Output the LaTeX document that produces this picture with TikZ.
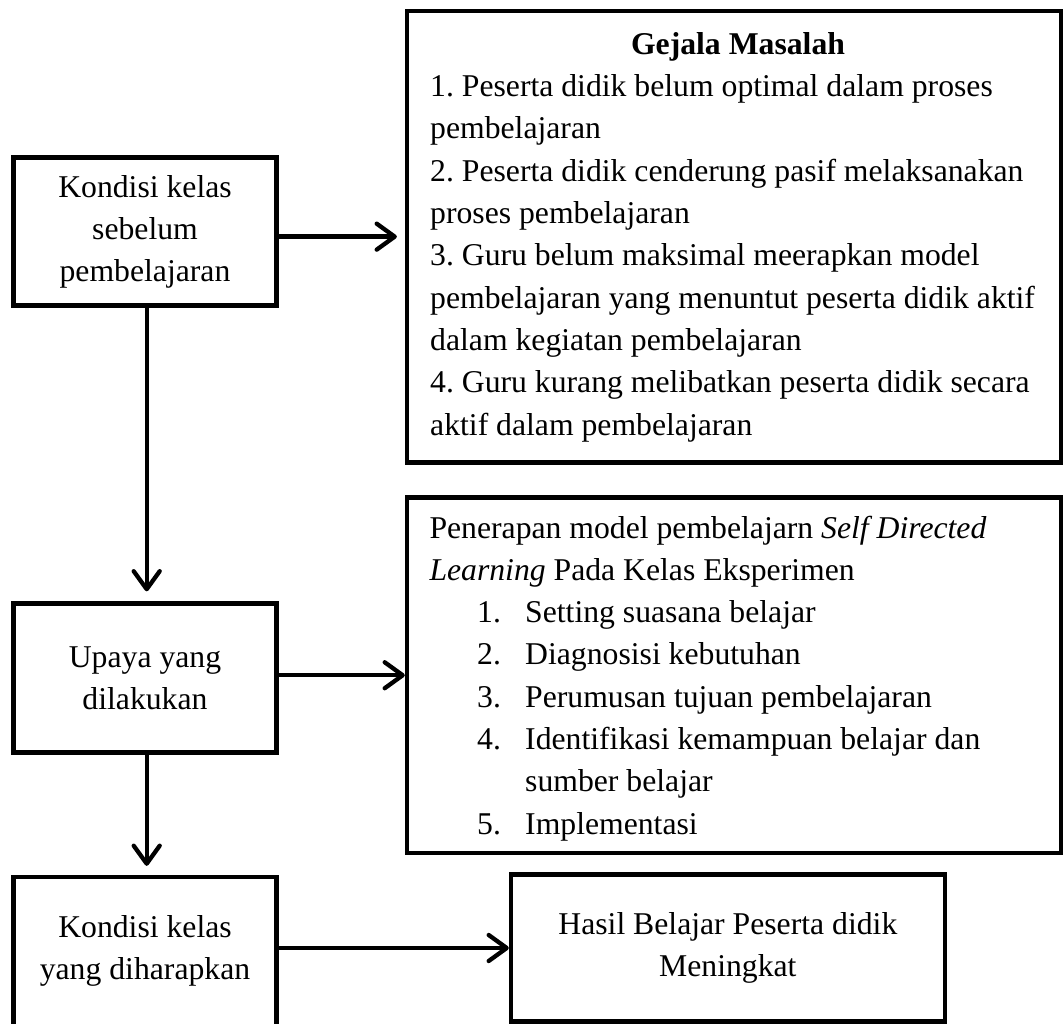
\documentclass[tikz,border=0pt]{standalone}
\usepackage{fontspec}
\setmainfont{Liberation Serif}
\usetikzlibrary{arrows.meta}
\newcommand\dfont{\fontsize{31.7pt}{42pt}\selectfont}
\frenchspacing
\begin{document}
\begin{tikzpicture}[x=1pt,y=-1pt,
  box/.style={draw, line width=4.3pt, rectangle, inner sep=0pt, font=\dfont, align=center},
  txt/.style={inner sep=0pt, font=\dfont},
  arr/.style={line width=4.3pt, -{Straight Barb[length=18pt,width=26pt,round]}}]
\clip (0,0) rectangle (1063,1024);
% boxes
\node[box, minimum width=263pt, minimum height=148pt] (b1) at (145,231.5) {Kondisi kelas\\sebelum\\pembelajaran};
\node[box, minimum width=654pt, minimum height=451.7pt] (g) at (734,236.65) {};
\node[box, minimum width=263pt, minimum height=149pt] (b2) at (145,678) {Upaya yang\\dilakukan};
\node[box, minimum width=654pt, minimum height=355.5pt] (p) at (734,675.25) {};
\node[box, minimum width=263pt, minimum height=163pt] (b3) at (145,958.5) {};
\node[txt, align=center] (t3) at (145,950.8) {Kondisi kelas\\yang diharapkan};
\node[box, minimum width=433.7pt, minimum height=147pt] (h) at (727.85,948) {Hasil Belajar Peserta didik\\Meningkat};
% Gejala text
\node[txt, anchor=base, font=\dfont\bfseries] (gt) at (738,55) {Gejala Masalah};
\foreach \s [count=\i] in {1. Peserta didik belum optimal dalam proses,
  pembelajaran,
  2. Peserta didik cenderung pasif melaksanakan,
  proses pembelajaran,
  3. Guru belum maksimal meerapkan model,
  pembelajaran yang menuntut peserta didik aktif,
  dalam kegiatan pembelajaran,
  4. Guru kurang melibatkan peserta didik secara,
  aktif dalam pembelajaran}
  \node[txt, anchor=base west] (gl\i) at (430,{96.7+42.3*(\i-1)}) {\s};
% Penerapan text
\node[txt, anchor=base west] (pl1) at (429.3,538) {Penerapan model pembelajarn \textit{Self Directed}};
\node[txt, anchor=base west] (pl2) at (429.3,580.3) {\textit{Learning} Pada Kelas Eksperimen};
\foreach \n/\s/\k in {1./Setting suasana belajar/0, 2./Diagnosisi kebutuhan/1,
  3./Perumusan tujuan pembelajaran/2, 4./Identifikasi kemampuan belajar dan/3,
  5./Implementasi/5} {
  \node[txt, anchor=base west] (pn\k) at (477,{622.5+42.3*\k}) {\n};
  \node[txt, anchor=base west] (pi\k) at (525,{622.5+42.3*\k}) {\s};
}
\node[txt, anchor=base west] (pi4) at (525,{622.5+42.3*4}) {sumber belajar};
% connectors
\draw[arr] (g.west -| b1.east) -- ([xshift=-8pt]g.west);
\draw[arr] (p.west -| b2.east) -- (p.west);
\draw[arr] (h.west -| b3.east) -- (h.west);
\draw[arr] ([xshift=1.7pt]b1.south) -- ([xshift=1.7pt,yshift=10pt]b2.north);
\draw[arr] ([xshift=1.7pt]b2.south) -- ([xshift=1.7pt,yshift=9pt]b3.north);
\end{tikzpicture}
\end{document}
